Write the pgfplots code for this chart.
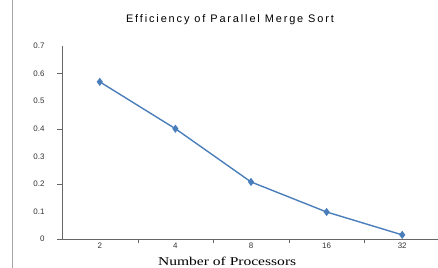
\documentclass[border=0pt]{standalone}
\usepackage{pgfplots}
\pgfplotsset{compat=1.18}
\usepackage{fontspec}
\setmainfont{Liberation Sans}
\newfontfamily\seriffont[FakeStretch=1.3]{Liberation Serif}
\newfontfamily\titlefont[LetterSpace=17]{Liberation Sans}
\definecolor{lineblue}{RGB}{74,126,187}
\begin{document}
\begin{tikzpicture}
\path[use as bounding box] (-62bp,-29bp) rectangle (376bp,239bp);
\draw[gray!70, line width=0.8pt] (-50bp,-29bp) -- (-50bp,239bp);
\begin{axis}[
  at={(0,0)}, anchor=south west,
  scale only axis, width=378bp, height=193bp,
  xmin=-0.5, xmax=4.5, ymin=0, ymax=0.7,
  axis lines*=left,
  axis line style={gray!80!black, line width=0.6pt},
  xtick={0,1,2,3,4}, xticklabels={2,4,8,16,32},
  minor xtick={0.5,1.5,2.5,3.5},
  ytick={0,0.1,...,0.7},
  extra y ticks={0,0.2,0.4,0.6}, extra y tick labels={},
  extra y tick style={major tick length=5bp, tick style={gray!80!black}},
  major tick length=0pt, minor tick length=4bp,
  tick align=outside,
  xtick style={draw=none},
  minor x tick style={draw=gray!80!black},
  yticklabel style={font=\fontsize{8}{9}\selectfont, text=black!80, xshift=-14bp},
  xticklabel style={font=\fontsize{8}{9}\selectfont, text=black!80, yshift=0bp},
  /pgf/number format/assume math mode=true,
  yticklabel={\pgfmathprintnumber[fixed,precision=1]{\tick}},
  title={Efficiency of Parallel Merge Sort},
  title style={font=\titlefont\fontsize{11}{12}\selectfont, yshift=12bp, xshift=-21bp},
  xlabel={Number of Processors},
  xlabel style={font=\seriffont\fontsize{12}{14}\selectfont, anchor=base, at={(axis description cs:0.437,0)}, yshift=-26bp},
]
\addplot[lineblue, line width=1.4pt, mark=diamond*, mark size=3pt, mark options={fill=lineblue}]
coordinates {(0,0.57) (1,0.40) (2,0.207) (3,0.098) (4,0.015)};
\end{axis}
\end{tikzpicture}
\end{document}
